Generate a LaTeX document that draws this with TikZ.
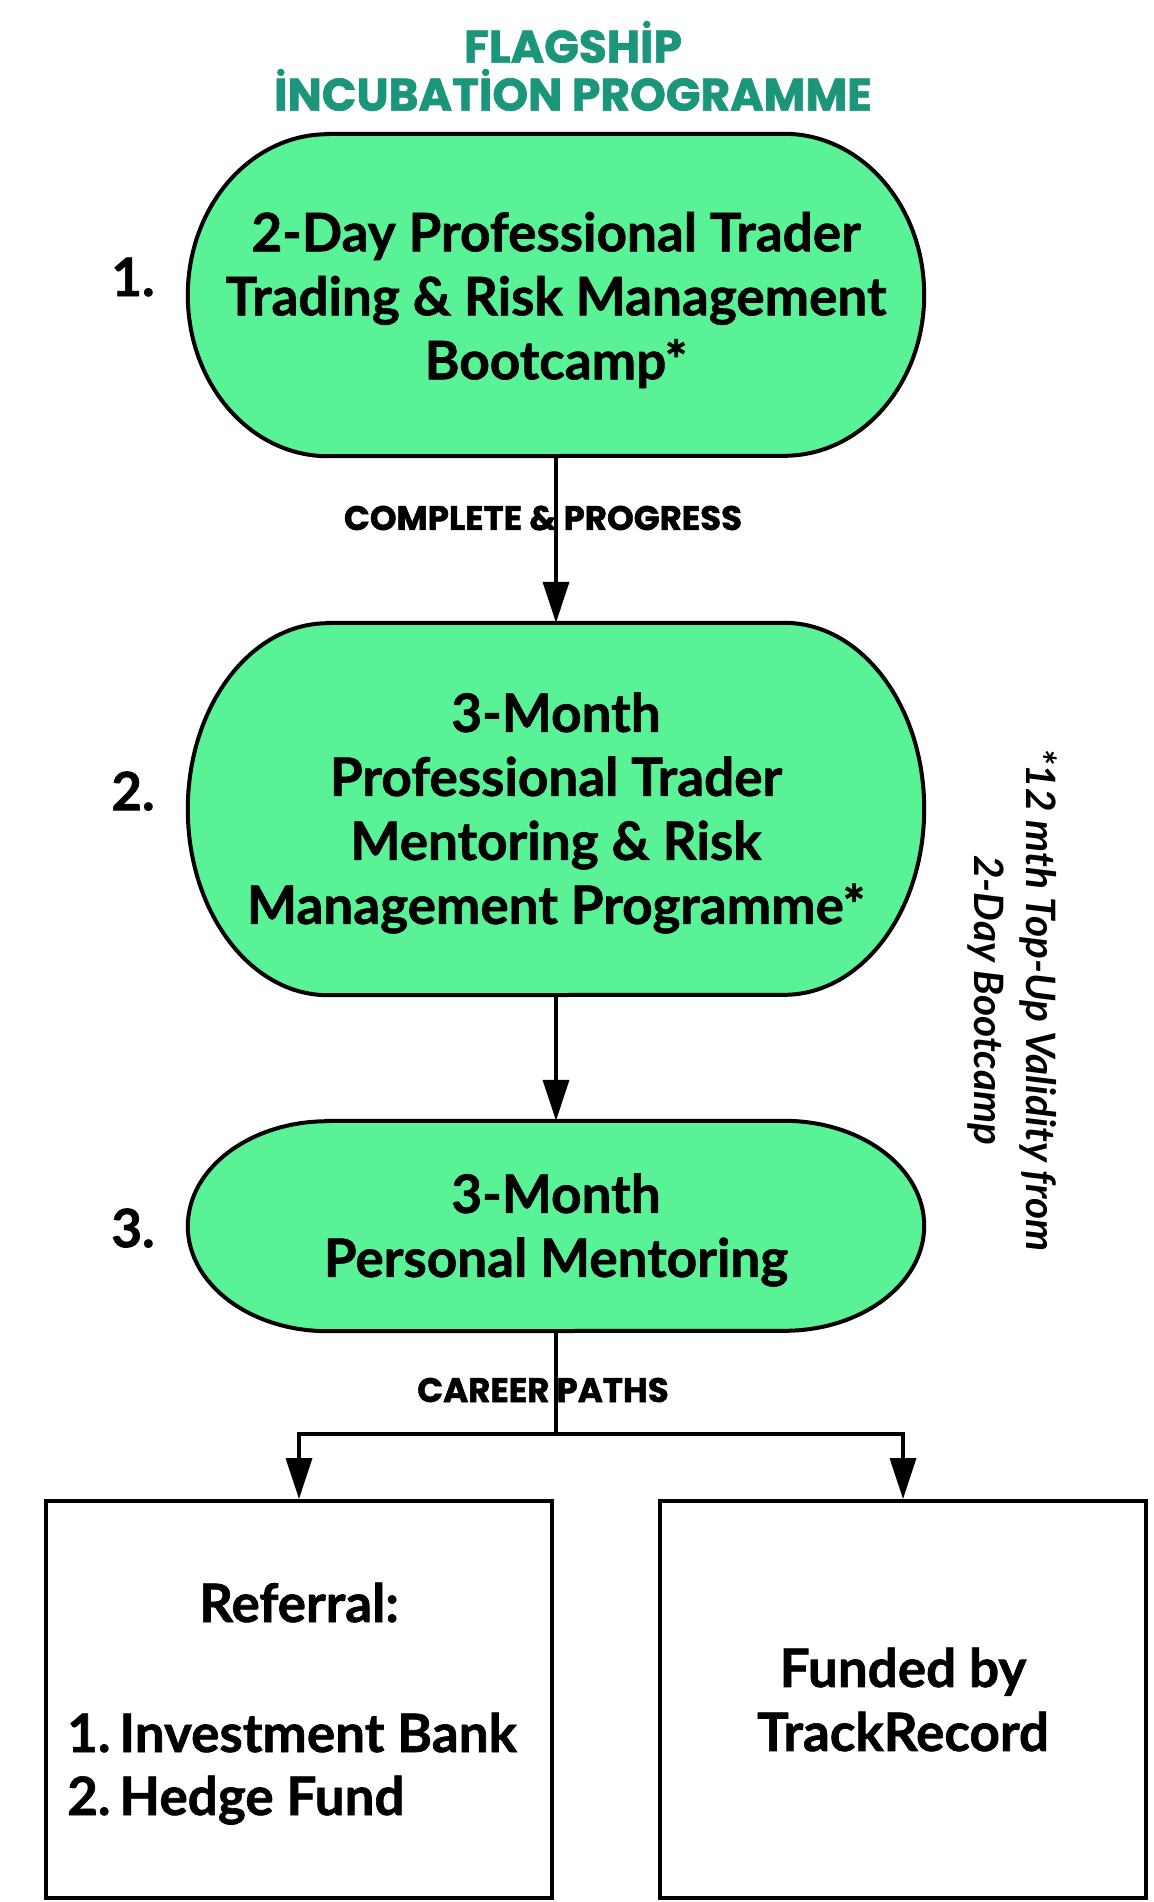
\documentclass[tikz,border=0pt]{standalone}
\usepackage{fontspec}
\setmainfont{Lato}[BoldFeatures={FakeBold=1.2}]
\newfontfamily\titlefont{Poppins}[BoldFeatures={FakeBold=1.5}]
\usetikzlibrary{arrows.meta,calc}
\pgfdeclarelayer{bg}
\pgfsetlayers{bg,main}
\definecolor{nodegreen}{RGB}{89,242,151}
\definecolor{titleteal}{RGB}{27,150,122}
\newcommand\stadiumfor[2]{%
  \begin{pgfonlayer}{bg}
  \draw[stadline] let \p1=(#1.north west), \p2=(#1.south east) in
    (\x1+140pt,\y1) -- (\x2-140pt,\y1)
    arc[start angle=90,end angle=-90,x radius=140pt,y radius=#2pt]
    -- (\x1+140pt,\y2)
    arc[start angle=270,end angle=90,x radius=140pt,y radius=#2pt] -- cycle;
  \end{pgfonlayer}}
\begin{document}
\begin{tikzpicture}[x=1pt,y=1pt,
  stage/.style={draw=none, minimum width=736pt, inner sep=0pt, align=center,
    font=\bfseries\fontsize{53}{64}\selectfont},
  stadline/.style={draw=black, line width=4pt, fill=nodegreen},
  flow/.style={line width=3.5pt, -{Triangle[length=41pt,width=26pt]}},
  plain/.style={line width=3.5pt},
  lbl/.style={font=\titlefont\bfseries\fontsize{34}{40}\selectfont, inner sep=0pt},
  num/.style={font=\bfseries\fontsize{53}{60}\selectfont, inner sep=0pt},
  outbox/.style={draw, line width=4pt, minimum height=397pt, inner sep=0pt},
  boxtext/.style={font=\bfseries\fontsize{53}{64}\selectfont, inner sep=0pt},
  ttl/.style={font=\titlefont\bfseries\fontsize{45.5}{48}\selectfont, text=titleteal, align=center, inner sep=0pt},
  note/.style={font=\bfseries\itshape\fontsize{40.5}{52}\selectfont, align=center, rotate=-90, inner sep=0pt}]
\useasboundingbox (0,0) rectangle (1153,-1902);

\node[ttl] (title) at (573,-66) {FLAGSHİP\\İNCUBATİON PROGRAMME};

\node[stage, minimum height=322pt] (n1) at (556,-295) {};
\node[stage, minimum height=372pt] (n2) at (556,-809) {};
\node[stage, minimum height=210pt] (n3) at (556,-1226) {};
\stadiumfor{n1}{161}
\stadiumfor{n2}{186}
\stadiumfor{n3}{105}
\node[stage] (t1) at ([yshift=-5pt]n1.center) {2-Day Professional Trader\\Trading \& Risk Management\\Bootcamp*};
\node[stage] (t2) at ([yshift=-4pt]n2.center) {3-Month\\Professional Trader\\Mentoring \& Risk\\Management Programme*};
\node[stage] (t3) at ([yshift=-4pt]n3.center) {3-Month\\Personal Mentoring};

\node[num] (k1) at (133,-277) {1.};
\node[num] (k2) at (133,-791) {2.};
\node[num] (k3) at (133,-1228) {3.};

\node[note] (side) at (1012,-1000) {*12 mth Top-Up Validity from\\2-Day Bootcamp};

\node[outbox, minimum width=506pt] (ref) at (299,-1699.5) {};
\node[outbox, minimum width=486pt] (fund) at (903,-1699.5) {};
\node[boxtext, anchor=base] (reft) at (299,-1622) {Referral:};
\node[boxtext, anchor=base west] (refa) at (67,-1752) {1.\,Investment Bank};
\node[boxtext, anchor=base west] (refb) at (67,-1815) {2.\,Hedge Fund};
\node[boxtext, align=center] (fundt) at (903,-1699.5) {Funded by\\TrackRecord};

\draw[flow] (n1.south) -- (n2.north);
\node[lbl] (l1) at (543,-518) {COMPLETE \& PROGRESS};
\draw[flow] (n2.south) -- (n3.north);

\coordinate (split) at (556,-1434);
\draw[plain] (n3.south) -- (split);
\draw[flow, line join=miter] (split) -| (ref.north);
\draw[flow, line join=miter] (split) -| (fund.north);
\node[lbl] (l2) at (543,-1390) {CAREER PATHS};
\end{tikzpicture}
\end{document}
